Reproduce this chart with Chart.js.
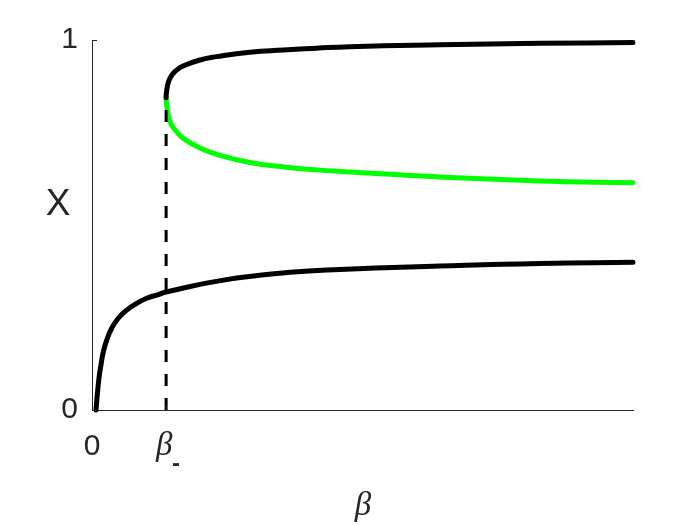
<!DOCTYPE html>
<html><head><meta charset="utf-8">
<script src="https://cdn.jsdelivr.net/npm/chart.js@4"></script>
<style>html,body{margin:0;padding:0;background:#fff}#wrap{width:700px;height:525px}</style>
</head><body><div id="wrap"><canvas id="c" width="700" height="525"></canvas></div>
<script>
// ---- data ----
const BETA_MINUS = 1.37;
const FOLD_X = 0.844;
const lowerBeta = [0.074, 0.098, 0.129, 0.166, 0.209, 0.272, 0.364, 0.486, 0.641, 0.826, 1.011, 1.226, 1.37, 2.43, 3.66, 4.58, 6.43, 8.28, 10];
const lowerX    = [0,     0.041, 0.086, 0.122, 0.157, 0.189, 0.221, 0.248, 0.270, 0.288, 0.302, 0.312, 0.319, 0.351, 0.372, 0.380, 0.389, 0.396, 0.399];
// stable upper branch (black), starting at the fold
const upperBeta = [1.37, 1.386, 1.442, 1.566, 1.688, 1.996, 2.305, 2.92, 3.54, 4.15, 4.77, 6.43, 8.28, 10];
const upperX    = [0.844, 0.869, 0.897, 0.919, 0.930, 0.946, 0.955, 0.967, 0.973, 0.978, 0.982, 0.987, 0.991, 0.993];
// unstable middle branch (green), starting at the fold
const middleBeta = [1.37, 1.386, 1.442, 1.566, 1.688, 1.996, 2.305, 2.92, 3.54, 4.15, 4.77, 6.43, 8.28, 10];
const middleX    = [0.844, 0.820, 0.779, 0.752, 0.734, 0.708, 0.691, 0.669, 0.657, 0.649, 0.643, 0.630, 0.619, 0.614];
const xTickValues = [0, BETA_MINUS];
const xTickLabels = ['0', ''];   // β₋ drawn by plugin below
const yTickValues = [0, 1];
const yTickLabels = ['0', '1'];
const xTitle = 'β';
const yTitle = 'X';
const betaMinusLabel = ['β', '-'];

const pts = (xs, ys) => xs.map((x, i) => ({x, y: ys[i]}));
const AX = '#262626';
// one path through the fold: green branch traced inward, then the black branch outward
const foldPath = [...pts(middleBeta, middleX).reverse(), ...pts(upperBeta, upperX).slice(1)];
const greenSegs = middleBeta.length - 1;

const textPlugin = {
  id: 'texts',
  afterDraw(chart) {
    const {ctx, scales: {x, y}} = chart;
    ctx.save();
    ctx.strokeStyle = AX; ctx.lineWidth = 1;
    yTickValues.forEach(v => {
      const py = Math.round(y.getPixelForValue(v)) + 0.5;
      ctx.beginPath(); ctx.moveTo(x.left, py); ctx.lineTo(x.left + 5, py); ctx.stroke();
    });
    xTickValues.forEach(v => {
      const px = Math.round(x.getPixelForValue(v)) + 0.5;
      ctx.beginPath(); ctx.moveTo(px, y.bottom); ctx.lineTo(px, y.bottom - 5); ctx.stroke();
    });
    ctx.fillStyle = AX;
    ctx.textAlign = 'center';
    ctx.textBaseline = 'alphabetic';
    ctx.font = '37px "Liberation Sans", Arial, sans-serif';
    ctx.fillText(yTitle, 58, 215);
    ctx.font = 'italic 33px "Liberation Serif", "Times New Roman", serif';
    ctx.fillText(xTitle, (x.left + x.right) / 2 + 0.5, 515);
    const bx = x.getPixelForValue(BETA_MINUS);
    ctx.fillText(betaMinusLabel[0], bx - 2, 455);
    ctx.font = 'bold 24px "Liberation Sans", Arial, sans-serif';
    ctx.fillText(betaMinusLabel[1], bx + 10, 471);
    ctx.restore();
  }
};

new Chart(document.getElementById('c'), {
  type: 'line',
  data: {
    datasets: [
      {data: pts([BETA_MINUS, BETA_MINUS], [0, FOLD_X]), borderColor: '#000', borderWidth: 3,
       borderDash: [12, 12], pointRadius: 0, borderCapStyle: 'butt', tension: 0},
      {data: pts(lowerBeta, lowerX), borderColor: '#000', borderWidth: 5, pointRadius: 0,
       tension: 0.5, borderCapStyle: 'round', borderJoinStyle: 'round'},
      {data: foldPath, borderColor: '#000', borderWidth: 5, pointRadius: 0,
       tension: 0.5, borderCapStyle: 'round', borderJoinStyle: 'round',
       segment: {borderColor: c => c.p0DataIndex < greenSegs ? '#00ff00' : '#000000'}}
    ]
  },
  options: {
    responsive: false,
    animation: false,
    clip: false,
    layout: {padding: {left: 0, right: 67, top: 40, bottom: 0}},
    plugins: {legend: {display: false}, tooltip: {enabled: false}},
    scales: {
      x: {
        type: 'linear', min: 0, max: 10,
        afterBuildTicks: s => { s.ticks = xTickValues.map(v => ({value: v})); },
        afterFit: s => { s.height = 115; s.paddingLeft = 0; s.paddingRight = 0; },
        grid: {display: false, drawTicks: false},
        border: {display: true, color: AX, width: 1},
        ticks: {
          padding: 19, maxRotation: 0, autoSkip: false,
          color: AX, font: {family: '"Liberation Sans", Arial, sans-serif', size: 30},
          callback: (v) => xTickLabels[xTickValues.indexOf(v)] ?? ''
        }
      },
      y: {
        type: 'linear', min: 0, max: 1,
        afterBuildTicks: s => { s.ticks = yTickValues.map(v => ({value: v})); },
        afterFit: s => { s.width = 92; s.paddingTop = 0; s.paddingBottom = 0; },
        grid: {display: false, drawTicks: false},
        border: {display: true, color: AX, width: 1},
        ticks: {
          padding: 14, autoSkip: false,
          color: AX, font: {family: '"Liberation Sans", Arial, sans-serif', size: 30},
          callback: (v) => yTickLabels[yTickValues.indexOf(v)] ?? ''
        }
      }
    }
  },
  plugins: [textPlugin]
});
</script></body></html>
